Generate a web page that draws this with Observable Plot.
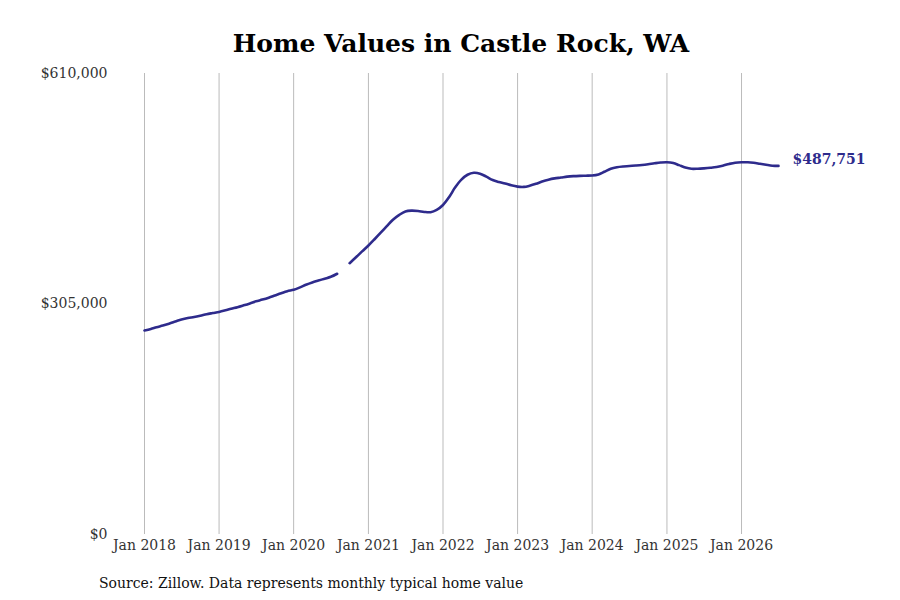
<!DOCTYPE html>
<html>
<head>
<meta charset="utf-8">
<script src="https://cdn.jsdelivr.net/npm/d3@7"></script>
<script src="https://cdn.jsdelivr.net/npm/@observablehq/plot@0.6"></script>
<style>
  html, body { margin: 0; padding: 0; background: #fff; width: 900px; height: 600px; overflow: hidden; position: relative; }
  #title { position: absolute; left: 11px; top: 29px; width: 900px; text-align: center; font-family: "DejaVu Serif", serif; font-weight: bold; font-size: 25px; color: #000; }
  #chart { position: absolute; left: 0; top: 58px; }
  #caption { position: absolute; left: 99px; top: 575px; font-family: "DejaVu Serif", serif; font-size: 14px; color: #111; }
</style>
</head>
<body>
<div id="title">Home Values in Castle Rock, WA</div>
<div id="chart"></div>
<div id="caption">Source: Zillow. Data represents monthly typical home value</div>
<script>
const startMonth = "2018-01";
const values = [
  // 2018
  270000, 272000, 274300, 276500, 279000, 281800, 284500, 286500, 287800, 289500, 291500, 293000,
  // 2019
  294500, 296600, 298700, 300800, 303200, 305800, 308500, 310800, 313400, 316300, 319300, 322000,
  // 2020
  323800, 327000, 330400, 333500, 336000, 338500, 341000, 345000, null, 359000, 366800, 374600,
  // 2021
  382400, 391000, 399000, 408000, 416500, 423000, 427500, 428500, 428000, 426800, 426500, 429500,
  // 2022
  436000, 447000, 459000, 469500, 476000, 478600, 477500, 473500, 469000, 466500, 464500, 462000,
  // 2023
  460300, 460000, 461500, 464000, 467000, 469500, 471200, 472300, 473500, 474200, 474600, 474800,
  // 2024
  475000, 476500, 480000, 484000, 486000, 487000, 487500, 488200, 489000, 490000, 491200, 492200,
  // 2025
  492600, 491500, 488800, 485600, 483900, 484000, 484500, 485200, 486200, 488000, 490300, 492000,
  // 2026
  492600, 492500, 491800, 490500, 489200, 488000, 487751
];
const yTicks = [0, 305000, 610000];
const xTickYears = [2018, 2019, 2020, 2021, 2022, 2023, 2024, 2025, 2026];
const lastLabel = "$487,751";

const data = values.map((v, i) => ({ date: new Date(2018, i, 1), value: v }));
const last = data[data.length - 1];
const xTicks = xTickYears.map(y => new Date(y, 0, 1));
const lineColor = "#2e2b8c";
const fmt = d3.format(",");

const chart = Plot.plot({
  width: 900,
  height: 510,
  marginLeft: 144,
  marginRight: 122,
  marginTop: 15,
  marginBottom: 34,
  style: { fontFamily: "DejaVu Serif, serif", fontSize: "14px", color: "#333", background: "transparent" },
  x: { type: "time", domain: [new Date(2018, 0, 1), new Date(2026, 6, 1)], label: null },
  y: { domain: [0, 610000], label: null },
  marks: [
    Plot.ruleX(xTicks, { stroke: "#bbb", strokeWidth: 1 }),
    Plot.axisX({ ticks: xTicks, tickFormat: d3.timeFormat("%b %Y"), tickSize: 0, tickPadding: 6, label: null, fill: "#333", fontSize: 14 }),
    Plot.axisY({ ticks: yTicks, tickFormat: d => "$" + fmt(d), tickSize: 0, tickPadding: 37, label: null, fill: "#333", fontSize: 14 }),
    Plot.lineY(data, { x: "date", y: "value", stroke: lineColor, strokeWidth: 2.6, curve: "catmull-rom", defined: d => d.value != null }),
    Plot.text([last], { x: "date", y: "value", text: () => lastLabel, textAnchor: "start", dx: 14, dy: -6, fill: lineColor, fontWeight: "bold", fontSize: 14 })
  ]
});
document.getElementById("chart").appendChild(chart);
</script>
</body>
</html>
